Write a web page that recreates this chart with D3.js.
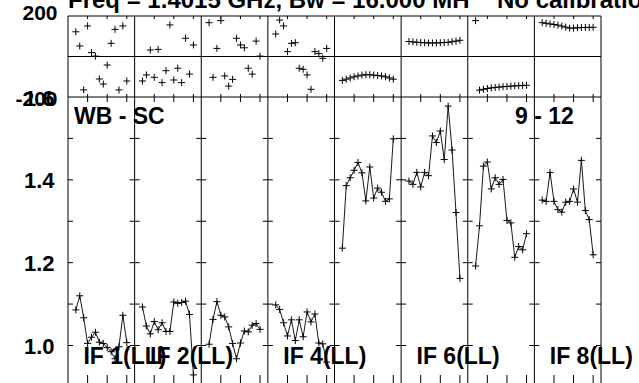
<!DOCTYPE html>
<html><head><meta charset="utf-8">
<script src="https://cdn.jsdelivr.net/npm/d3@7"></script>
<style>
body{margin:0;background:#fff}
svg{display:block}
text{font-family:"Liberation Sans",Arial,Helvetica,sans-serif;font-weight:bold;fill:#000}
</style>
</head><body><svg id="c" width="639" height="383"></svg>
<script>
// ---- data ----
const ifNames = ["IF 1","IF 2","IF 3","IF 4","IF 5","IF 6","IF 7","IF 8"];
const panelLabels = ["IF 1(LL)","IF 2(LL)","","IF 4(LL)","","IF 6(LL)","","IF 8(LL)"];
const channels = [2,3,4,5,6,7,8,9,10,11,12,13,14,15];

const amp1 = [1.086,1.120,1.067,1.005,1.020,1.032,1.008,1.005,0.995,0.985,0.968,0.997,1.073,1.007];
const amp2 = [1.093,1.047,1.028,1.058,1.038,1.055,1.034,1.034,1.105,1.102,1.104,1.107,1.075,0.929];
const amp3 = [1.003,1.063,1.106,1.073,1.069,1.045,1.005,0.968,1.006,1.035,1.033,1.049,1.053,1.039];
const amp4 = [1.098,1.087,1.055,1.023,1.062,1.012,1.062,1.021,1.081,1.057,1.076,1.006,1.004,0.960];
const amp5 = [1.235,1.386,1.405,1.423,1.442,1.417,1.349,1.431,1.356,1.380,1.370,1.348,1.354,1.499];
const amp6 = [1.397,1.389,1.418,1.383,1.418,1.410,1.506,1.490,1.518,1.449,1.578,1.472,1.321,1.162];
const amp7 = [1.192,1.289,1.433,1.443,1.378,1.405,1.389,1.401,1.302,1.296,1.213,1.239,1.231,1.270];
const amp8 = [1.351,1.348,1.418,1.348,1.328,1.322,1.346,1.348,1.378,1.346,1.447,1.326,1.304,1.219];

const phase1 = [122,52,-165,151,19,2,-111,-136,-42,65,134,-165,151,-121];
const phase2 = [-121,-91,32,-103,35,-129,-70,156,-116,-58,-129,90,-87,57];
const phase3 = [167,-103,40,177,-96,-146,-113,90,57,43,-58,-87,76,2];
const phase4 = [111,180,151,24,65,68,-58,-63,-91,-162,24,14,-9,40];
const phase5 = [-118,-112,-106,-100,-96,-92,-90,-90,-92,-94,-96,-100,-106,-112];
const phase6 = [74,72,70,69,68,67,67,67,68,69,70,73,76,80];
const phase7 = [177,-166,-162,-158,-155,-153,-151,-149,-148,-146,-145,-144,-143,-142];
const phase8 = [167,164,161,158,155,150,145,140,140,142,143,143,144,144];

const ampSeries = [amp1,amp2,amp3,amp4,amp5,amp6,amp7,amp8];
const phaseSeries = [phase1,phase2,phase3,phase4,phase5,phase6,phase7,phase8];

const ampTicks = [1.0,1.1,1.2,1.3,1.4,1.5];
const ampTickLabels = [1.0,1.2,1.4,1.6];
const phaseTickLabels = [200,-200];
const chanTicks = [5,10,15];
const titleText = "Freq = 1.4015 GHz, Bw = 16.000 MH";
const titleText2 = "No calibration";
const sourceLabel = "WB - SC";
const rangeLabel = "9 - 12";

// ---- scales ----
const svg = d3.select("#c");
const col = d3.scaleBand().domain(ifNames).range([68, 601]).paddingInner(0).paddingOuter(0);
const cw = col.bandwidth();
const xCh = d3.scaleLinear().domain([0, 17]).range([0, cw]);
const yAmp = d3.scaleLinear().domain([1.0, 1.6]).range([345.5, 97]);
const yPh = d3.scaleLinear().domain([-200, 200]).range([97, 16]);
const xL = 68, xR = 601, yTop = 16, yMid = yPh(0), yBot = 390;

const g = svg.append("g").attr("stroke","#000").attr("fill","none").attr("stroke-width",1);

// frame lines
g.append("line").attr("x1",xL).attr("x2",xR).attr("y1",yTop).attr("y2",yTop);
g.append("line").attr("x1",xL).attr("x2",xR).attr("y1",yMid).attr("y2",yMid);
g.append("line").attr("x1",xL).attr("x2",xR).attr("y1",yAmp(1.6)).attr("y2",yAmp(1.6));
const edges = ifNames.map(n => col(n)).concat([xR]);
g.selectAll(".div").data(edges).join("line")
  .attr("x1",d=>d).attr("x2",d=>d).attr("y1",yTop).attr("y2",yBot);

// amplitude ticks on dividers
edges.forEach((x,i) => {
  ampTicks.forEach(t => {
    const x1 = i===0 ? x : x-5;
    const x2 = i===edges.length-1 ? x : x+5;
    g.append("line").attr("x1",x1).attr("x2",x2).attr("y1",yAmp(t)).attr("y2",yAmp(t));
  });
});

// channel ticks
ifNames.forEach(n => {
  chanTicks.forEach(c => {
    const x = col(n) + xCh(c);
    g.append("line").attr("x1",x).attr("x2",x).attr("y1",yTop).attr("y2",yTop+3);
    g.append("line").attr("x1",x).attr("x2",x).attr("y1",yAmp(1.6)-3).attr("y2",yAmp(1.6)+5);
    g.append("line").attr("x1",x).attr("x2",x).attr("y1",375).attr("y2",yBot);
  });
});

// data
const plus = "M-3.5,0H3.5M0,-3.5V3.5";
ifNames.forEach((n,i) => {
  const ox = col(n);
  const amp = ampSeries[i], ph = phaseSeries[i];
  const line = d3.line().x((d,k)=>ox + xCh(channels[k])).y(d=>yAmp(d));
  g.append("path").attr("d", line(amp)).attr("stroke-width",0.9);
  g.selectAll(null).data(amp).join("path")
    .attr("transform",(d,k)=>`translate(${ox + xCh(channels[k])},${yAmp(d)})`)
    .attr("d", plus);
  g.selectAll(null).data(ph).join("path")
    .attr("transform",(d,k)=>`translate(${ox + xCh(channels[k])},${yPh(d)})`)
    .attr("d", plus);
});

// labels
const T = svg.append("g");
T.append("text").attr("x",68).attr("y",7.5).attr("font-size",24).text(titleText);
T.append("text").attr("x",497).attr("y",7.5).attr("font-size",24).text(titleText2);
T.selectAll(null).data(phaseTickLabels).join("text")
  .attr("x",57.5).attr("y",d=> d>0 ? yPh(d)-4 : yPh(d)+1)
  .attr("text-anchor","end").attr("dominant-baseline","central")
  .attr("font-size",21).text(d=>d);
T.selectAll(null).data(ampTickLabels).join("text")
  .attr("x",54.5).attr("y",d=>yAmp(d)+1)
  .attr("text-anchor","end").attr("dominant-baseline","central")
  .attr("font-size",22).text(d=>d.toFixed(1));
T.append("text").attr("x",74).attr("y",124).attr("font-size",23).text(sourceLabel);
T.append("text").attr("x",515).attr("y",124).attr("font-size",23).text(rangeLabel);
ifNames.forEach((n,i) => {
  if (!panelLabels[i]) return;
  T.append("text").attr("x",col(n)+15.4).attr("y",363.5).attr("font-size",23).text(panelLabels[i]);
});
</script>
</body></html>
